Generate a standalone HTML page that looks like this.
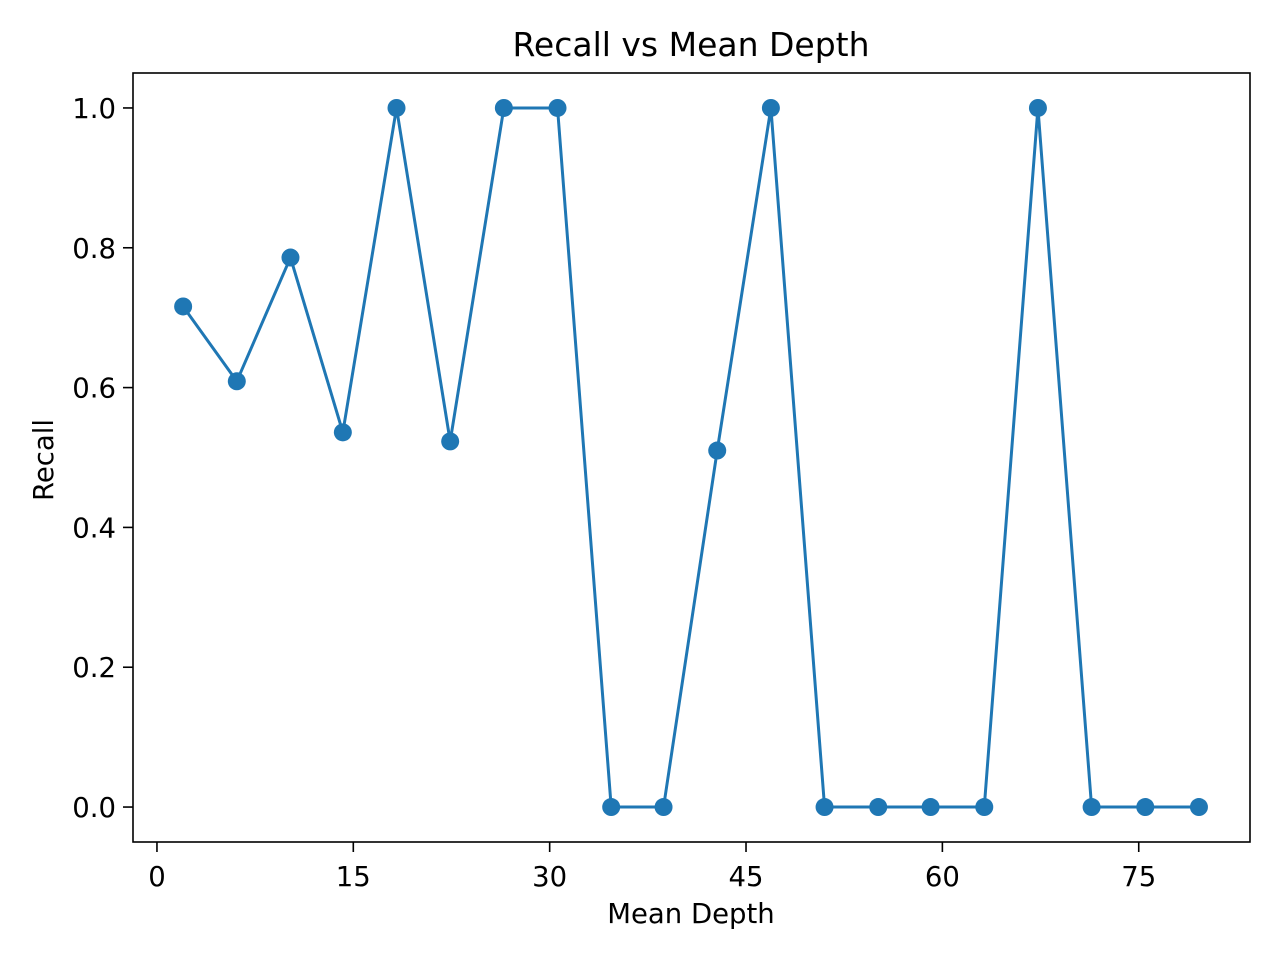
<!DOCTYPE html>
<html><head><meta charset="utf-8"><style>
html,body{margin:0;padding:0;background:#fff;}
svg text{font-family:"DejaVu Sans","Liberation Sans",sans-serif;fill:#000;}
</style></head><body>
<svg id="chart" width="1280" height="960" xmlns="http://www.w3.org/2000/svg">
<rect width="1280" height="960" fill="#fff"/>
<text x="691" y="56" font-size="33" text-anchor="middle">Recall vs Mean Depth</text>
<text x="691" y="923" font-size="27.5" text-anchor="middle">Mean Depth</text>
<text transform="translate(53,460) rotate(-90)" font-size="27.5" text-anchor="middle">Recall</text>
<g id="marks"></g>
<rect x="133" y="73" width="1117" height="769" fill="none" stroke="#000" stroke-width="1.6"/>
<g id="axes"></g>
</svg>
<script>
const depths=[2.0,6.1,10.2,14.2,18.3,22.4,26.5,30.6,34.7,38.7,42.8,46.9,51.0,55.1,59.1,63.2,67.3,71.4,75.5,79.6];
const recalls=[0.716,0.609,0.786,0.536,1,0.523,1,1,0,0,0.51,1,0,0,0,0,1,0,0,0];
const xTicks=[0,15,30,45,60,75];
const yTicks=[0.0,0.2,0.4,0.6,0.8,1.0];
const L=133,R=1250,T=73,B=842;
const xMin=-1.83,xMax=83.5,yMin=-0.05,yMax=1.05;
function sx(v){return L+(v-xMin)/(xMax-xMin)*(R-L);}
function sy(v){return B-(v-yMin)/(yMax-yMin)*(B-T);}
const NS="http://www.w3.org/2000/svg";
const marks=document.getElementById('marks'),axes=document.getElementById('axes');
function mk(t,a,p){const e=document.createElementNS(NS,t);for(const k in a)e.setAttribute(k,a[k]);p.appendChild(e);return e;}
const line=mk('polyline',{points:depths.map((d,i)=>sx(d)+','+sy(recalls[i])).join(' '),fill:'none',stroke:'#1f77b4','stroke-width':3},marks);


depths.forEach((d,i)=>{
 const c=mk('circle',{cx:sx(d),cy:sy(recalls[i]),r:9,fill:'#1f77b4'},marks);
 
 
});
xTicks.forEach(v=>{
 const x=sx(v);
 const t=mk('line',{x1:x,x2:x,y1:B,y2:B+10,stroke:'#000','stroke-width':1.6},axes);
 
 
 const l=mk('text',{x:x,y:B+44,'font-size':27.5,'text-anchor':'middle'},axes);
 l.textContent=String(v);
 
 
});
yTicks.forEach(v=>{
 const y=sy(v);
 const t=mk('line',{x1:L-10,x2:L,y1:y,y2:y,stroke:'#000','stroke-width':1.6},axes);
 
 
 const l=mk('text',{x:L-17,y:y+10,'font-size':27.5,'text-anchor':'end'},axes);
 l.textContent=v.toFixed(1);
 
 
});
</script>
</body></html>
